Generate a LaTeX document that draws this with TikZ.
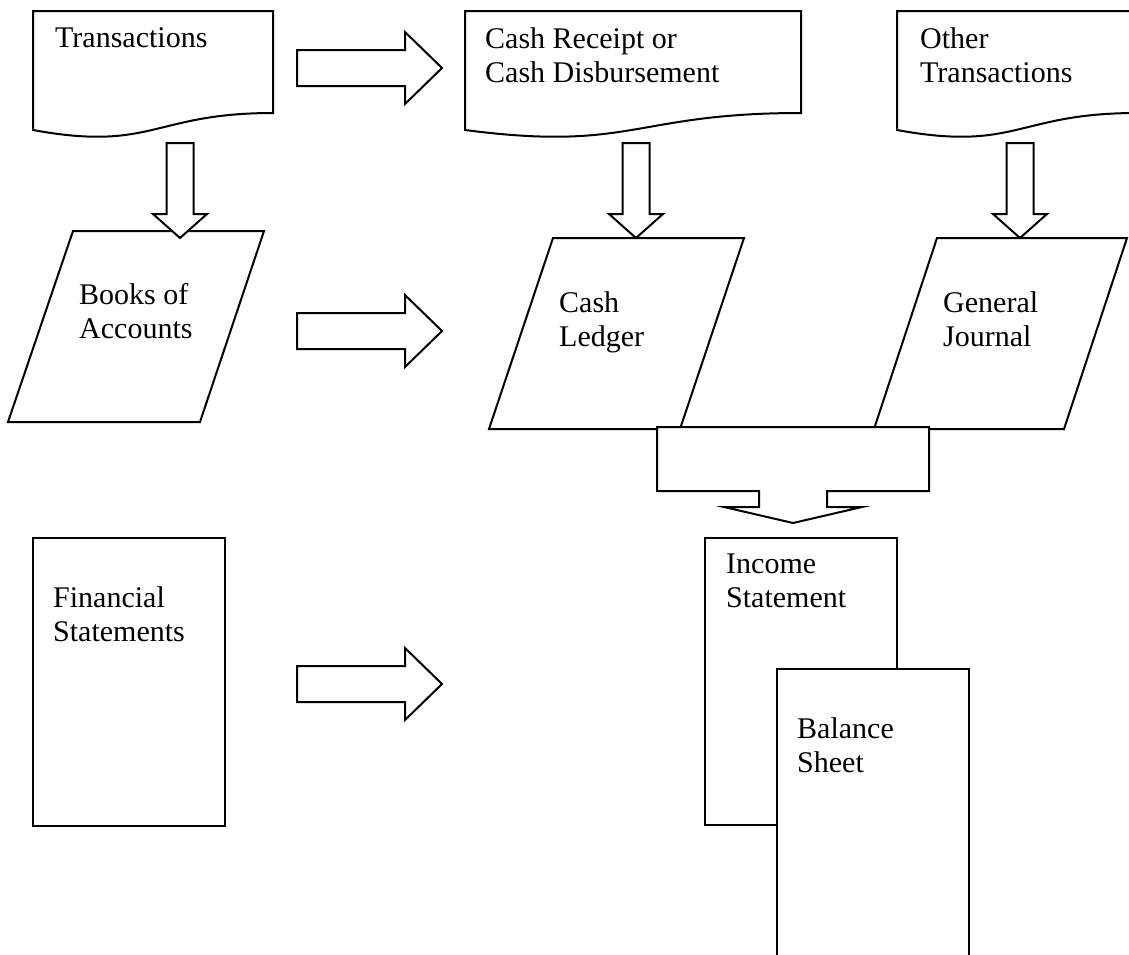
\documentclass[tikz,border=0pt]{standalone}
\usepackage{fontspec}
\setmainfont{Liberation Serif}
\tikzset{
  shapebox/.style={draw=black, fill=white, line width=2pt, line join=miter},
  blockarrow/.style={draw=black, fill=white, line width=2pt, line join=miter},
  lbl/.style={anchor=base west, inner sep=0pt, align=left, font=\fontsize{30}{33.5}\selectfont},
  rarrow/.pic={\draw[blockarrow] (-145,-18) -- (-37,-18) -- (-37,-36) -- (0,0) -- (-37,36) -- (-37,18) -- (-145,18) -- cycle;},
  darrow/.pic={\draw[blockarrow] (-13.5,-95) -- (13.5,-95) -- (13.5,-24) -- (27,-24) -- (0,0) -- (-27,-24) -- (-13.5,-24) -- cycle;}
}
\begin{document}
\begin{tikzpicture}[x=1pt,y=-1pt]
\useasboundingbox (0,0) rectangle (1129,954);
\clip (0,0) rectangle (1129,954);
% documents
\draw[shapebox] (33,11) -- (273,11) -- (273,113) .. controls (153,113) and (153,152) .. (33,130) -- cycle;
\draw[shapebox] (465,11) -- (801,11) -- (801,113) .. controls (633,113) and (633,152) .. (465,130) -- cycle;
\draw[shapebox] (897,11) -- (1137,11) -- (1137,113) .. controls (1017,113) and (1017,152) .. (897,130) -- cycle;
% ledgers
\draw[shapebox] (73,231) -- (264,231) -- (200,422) -- (8,422) -- cycle;
\draw[shapebox] (553,238) -- (744,238) -- (680,429) -- (489,429) -- cycle;
\draw[shapebox] (937,238) -- (1127,238) -- (1064,429) -- (874,429) -- cycle;
% statements
\draw[shapebox] (33,538) rectangle (225,826);
\draw[shapebox] (705,538) rectangle (897,825);
\draw[shapebox] (777,669) rectangle (969,975);
% block arrows
\pic (ar1) at (442,68) {rarrow};
\pic (ar2) at (442,331) {rarrow};
\pic (ar3) at (442,684) {rarrow};
\pic (ad1) at (180,238) {darrow};
\pic (ad2) at (636,238) {darrow};
\pic (ad3) at (1020,238) {darrow};
\draw[blockarrow] (657,427) -- (929,427) -- (929,491) -- (827,491) -- (827,507) -- (862,507) -- (793,523) -- (724,507) -- (759,507) -- (759,491) -- (657,491) -- cycle;
% labels (anchor = baseline of the last line)
\node[lbl] (t1) at (55,47) {Transactions};
\node[lbl] (t2) at (485,82) {Cash Receipt or\\Cash Disbursement};
\node[lbl] (t3) at (920,82) {Other\\Transactions};
\node[lbl] (t4) at (79,338) {Books of\\Accounts};
\node[lbl] (t5) at (559,346) {Cash\\Ledger};
\node[lbl] (t6) at (943,346) {General\\Journal};
\node[lbl] (t7) at (53,641) {Financial\\Statements};
\node[lbl] (t8) at (726,607) {Income\\Statement};
\node[lbl] (t9) at (797,772) {Balance\\Sheet};
\end{tikzpicture}
\end{document}
